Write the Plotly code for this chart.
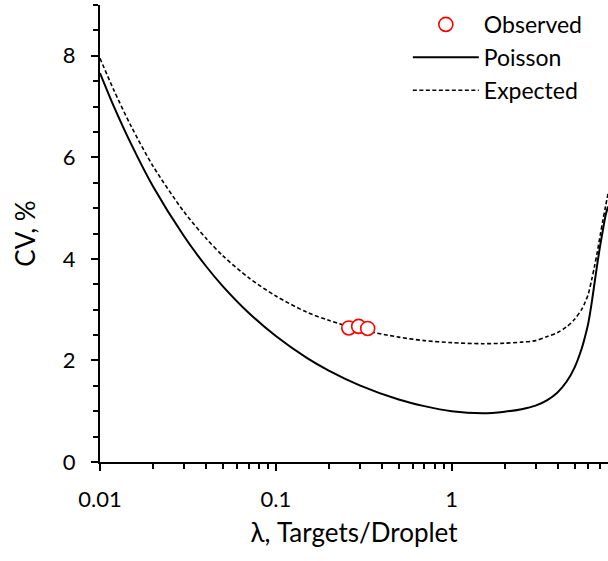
import plotly.graph_objects as go

# Targets per droplet (lambda) sampled along the curves
lam = [0.01, 0.012, 0.015, 0.02, 0.03, 0.04, 0.05, 0.07, 0.1, 0.15, 0.2, 0.3, 0.5, 0.7,
       1.0, 1.5, 2.0, 2.5, 3.0, 3.5, 4.0, 4.5, 5.0, 5.5, 5.75, 6.0, 6.25, 6.5, 6.75,
       7.0, 7.25, 7.5, 7.75]
# Poisson CV (%)
cv_poisson = [7.66, 7.00, 6.27, 5.43, 4.45, 3.86, 3.46, 2.94, 2.48, 2.05, 1.80, 1.51, 1.23, 1.10,
              1.00, 0.96, 0.99, 1.04, 1.11, 1.22, 1.37, 1.58, 1.86, 2.24, 2.48, 2.75, 3.12, 3.53, 3.92,
              4.27, 4.57, 4.85, 5.03]
# Expected CV (%)
cv_expected = [7.95, 7.32, 6.62, 5.83, 4.93, 4.41, 4.06, 3.63, 3.27, 2.95, 2.79, 2.61, 2.46, 2.39,
               2.35, 2.33, 2.34, 2.36, 2.39, 2.47, 2.55, 2.66, 2.81, 3.01, 3.15, 3.32, 3.58, 3.86, 4.15,
               4.47, 4.76, 5.03, 5.28]
# Observed points
obs_lam = [0.26, 0.296, 0.333]
obs_cv = [2.64, 2.67, 2.63]

FONT = "Lato"

fig = go.Figure()
fig.add_trace(go.Scatter(x=lam, y=cv_poisson, mode="lines", name="Poisson",
                         line=dict(color="black", width=2, shape="spline", smoothing=0.8),
                         legendgroup="b", legendrank=2))
fig.add_trace(go.Scatter(x=lam, y=cv_expected, mode="lines", name="Expected",
                         line=dict(color="black", width=1.6, dash="4px,2.5px", shape="spline", smoothing=0.8),
                         legendgroup="c", legendrank=3))
fig.add_trace(go.Scatter(x=obs_lam, y=obs_cv, mode="markers", name="Observed",
                         marker=dict(symbol="circle", size=14, color="white",
                                     line=dict(color="#ff0000", width=1.6)),
                         legendgroup="a", legendrank=1))

fig.update_layout(
    width=608, height=561,
    margin=dict(l=100, r=0, t=5, b=99, autoexpand=False),
    paper_bgcolor="white", plot_bgcolor="white",
    font=dict(family=FONT, size=22, color="black"),
    showlegend=True,
    legend=dict(x=0.606, y=1.0045, xanchor="left", yanchor="top",
                bgcolor="rgba(0,0,0,0)", font=dict(size=23),
                traceorder="grouped", tracegroupgap=0, itemwidth=66),
    xaxis=dict(type="log", range=[-2, 0.8893], automargin=False,
               tickvals=[0.01, 0.1, 1], ticktext=["0.01", "0.1", "1"],
               ticks="outside", ticklen=7, tickwidth=2, tickcolor="black",
               showline=True, linecolor="black", linewidth=2,
               showgrid=False, zeroline=False,
               tickfont=dict(size=22), ticklabelstandoff=10,
               minor=dict(tickvals=[0.02, 0.03, 0.04, 0.05, 0.06, 0.07, 0.08, 0.09,
                                    0.2, 0.3, 0.4, 0.5, 0.6, 0.7, 0.8, 0.9,
                                    2, 3, 4, 5, 6, 7],
                          ticks="outside", ticklen=5, tickwidth=2, tickcolor="black", showgrid=False),
               title=dict(text="λ, Targets/Droplet", font=dict(size=26), standoff=12)),
    yaxis=dict(range=[0, 9], tickvals=[0, 2, 4, 6, 8], automargin=False,
               ticks="outside", ticklen=7, tickwidth=2, tickcolor="black",
               showline=True, linecolor="black", linewidth=2,
               showgrid=False, zeroline=False,
               tickfont=dict(size=22), ticklabelstandoff=11,
               minor=dict(dtick=0.5, ticks="outside", ticklen=5, tickwidth=2,
                          tickcolor="black", showgrid=False),
               title=dict(text="CV, %", font=dict(size=26), standoff=20)),
)

fig.write_html("out.html", config={"displayModeBar": False},
               post_script="document.body.style.margin='0';document.body.style.padding='0';")
